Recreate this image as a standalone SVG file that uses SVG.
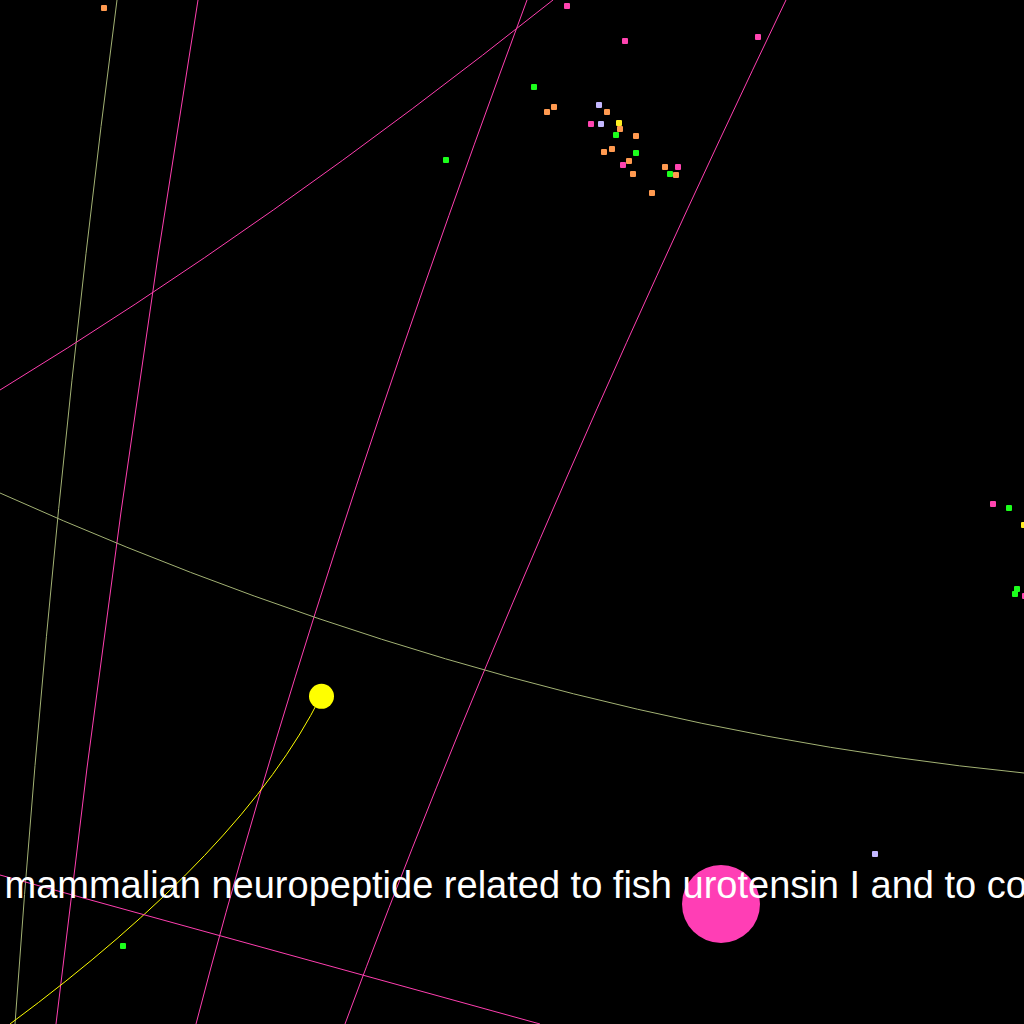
<svg xmlns="http://www.w3.org/2000/svg" width="1024" height="1024" viewBox="0 0 1024 1024">
<style>
.bg{fill:#000}
.lp{fill:none;stroke:#ff3fb0;stroke-width:1}
.lo{fill:none;stroke:#a3b274;stroke-width:1}
.ly{fill:none;stroke:#ffff00;stroke-width:1}
.s{width:6px;height:6px}
.g{fill:#1cff1c}
.o{fill:#ff9a50}
.v{fill:#c4b8ff}
.p{fill:#ff44b0}
.y{fill:#ffee22}
.lbl{font-family:"Liberation Sans",Arial,sans-serif;font-size:38px;fill:#fff}
</style>
<defs>
<rect id="dot" x="-3" y="-3" width="6" height="6" rx="1"/>
</defs>
<rect class="bg" x="0" y="0" width="1024" height="1024"/>
<g id="connectors">
<path class="lo" d="M117,0 Q51.4,505 15,1024"/>
<path class="lp" d="M198,0 Q115,512 56,1024"/>
<path class="lp" d="M553,0 Q270,225 0,390"/>
<path class="lp" d="M527,0 Q309,589 196,1024"/>
<path class="lp" d="M786,0 Q515,565 345,1024"/>
<path class="lo" d="M0,493 Q507,721 1024,773"/>
<path class="ly" d="M321,696 Q243.5,851 10,1024"/>
<path class="lp" d="M0,875 L540,1024"/>
</g>
<g id="nodes">
<g id="n-yellow"><circle cx="321.5" cy="696.3" r="12.5" fill="#ffff00"/></g>
<g id="n-pink-big"><circle cx="721" cy="904" r="39" fill="#ff3eb5"/></g>
<g id="n1"><use href="#dot" class="o" x="104" y="8"/></g>
<g id="n2"><use href="#dot" class="g" x="446" y="160"/></g>
<g id="n3"><use href="#dot" class="p" x="567" y="6"/></g>
<g id="n4"><use href="#dot" class="p" x="625" y="41"/></g>
<g id="n5"><use href="#dot" class="p" x="758" y="37"/></g>
<g id="n6"><use href="#dot" class="g" x="534" y="87"/></g>
<g id="n7"><use href="#dot" class="o" x="547" y="112"/></g>
<g id="n8"><use href="#dot" class="o" x="554" y="107"/></g>
<g id="n9"><use href="#dot" class="v" x="599" y="105"/></g>
<g id="n10"><use href="#dot" class="o" x="607" y="112"/></g>
<g id="n11"><use href="#dot" class="p" x="591" y="124"/></g>
<g id="n12"><use href="#dot" class="v" x="601" y="124"/></g>
<g id="n13"><use href="#dot" class="y" x="619" y="123"/></g>
<g id="n14"><use href="#dot" class="o" x="620" y="129"/></g>
<g id="n15"><use href="#dot" class="g" x="616" y="135"/></g>
<g id="n16"><use href="#dot" class="o" x="636" y="136"/></g>
<g id="n17"><use href="#dot" class="g" x="636" y="153"/></g>
<g id="n18"><use href="#dot" class="o" x="604" y="152"/></g>
<g id="n19"><use href="#dot" class="o" x="612" y="149"/></g>
<g id="n20"><use href="#dot" class="o" x="629" y="161"/></g>
<g id="n21"><use href="#dot" class="p" x="623" y="165"/></g>
<g id="n22"><use href="#dot" class="o" x="633" y="174"/></g>
<g id="n23"><use href="#dot" class="o" x="665" y="167"/></g>
<g id="n24"><use href="#dot" class="p" x="678" y="167"/></g>
<g id="n25"><use href="#dot" class="g" x="670" y="174"/></g>
<g id="n26"><use href="#dot" class="o" x="676" y="175"/></g>
<g id="n27"><use href="#dot" class="o" x="652" y="193"/></g>
<g id="n28"><use href="#dot" class="p" x="993" y="504"/></g>
<g id="n29"><use href="#dot" class="g" x="1009" y="508"/></g>
<g id="n30"><use href="#dot" class="y" x="1024" y="525"/></g>
<g id="n31"><use href="#dot" class="g" x="1017" y="589"/></g>
<g id="n32"><use href="#dot" class="g" x="1015" y="594"/></g>
<g id="n33"><use href="#dot" class="p" x="1025" y="596"/></g>
<g id="n34"><use href="#dot" class="v" x="875" y="854"/></g>
<g id="n35"><use href="#dot" class="g" x="123" y="946"/></g>
</g>
<text class="lbl" x="4.5" y="898">mammalian neuropeptide related to fish urotensin I and to co</text>
</svg>
